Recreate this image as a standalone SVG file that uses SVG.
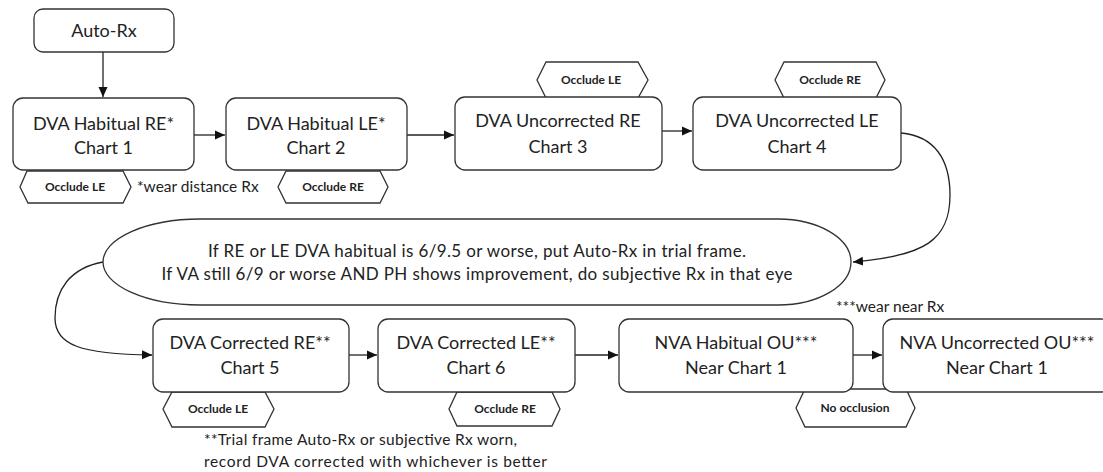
<svg xmlns="http://www.w3.org/2000/svg" width="1103" height="472" viewBox="0 0 1103 472">
<defs>
<style>
.box{fill:#fff;stroke:#333;stroke-width:1.3}
.hex{fill:#fff;stroke:#333;stroke-width:1.3}
.conn{fill:none;stroke:#222;stroke-width:1.3}
.t{font-family:Lato,"Liberation Sans",sans-serif;font-size:18px;fill:#222;text-anchor:middle}
.e{font-family:Lato,"Liberation Sans",sans-serif;font-size:17px;fill:#222;text-anchor:middle}
.n{font-family:Lato,"Liberation Sans",sans-serif;font-size:15.5px;fill:#222}
.h{font-family:Lato,"Liberation Sans",sans-serif;font-size:12px;font-weight:bold;fill:#222;text-anchor:middle}
</style>
<marker id="arr" markerUnits="userSpaceOnUse" markerWidth="11" markerHeight="10" refX="10" refY="5" orient="auto">
<path d="M0,0.5 L10,5 L0,9.5 z" fill="#111"/>
</marker>
</defs>
<rect width="1103" height="472" fill="#fff"/>

<g id="connectors">
<path class="conn" d="M103,52 L103,97" marker-end="url(#arr)"/>
<path class="conn" d="M194,135 L225,135" marker-end="url(#arr)"/>
<path class="conn" d="M407,135 L454,135" marker-end="url(#arr)"/>
<path class="conn" d="M662,131 L692,131" marker-end="url(#arr)"/>
<path class="conn" d="M901,133 C935,136 950,160 950,195 C950,240 925,256 853,262" marker-end="url(#arr)"/>
<path class="conn" d="M103,262 C70,268 55,290 55,318 C55,345 80,354 152,355" marker-end="url(#arr)"/>
<path class="conn" d="M349,355 L377,355" marker-end="url(#arr)"/>
<path class="conn" d="M575,355 L618,355" marker-end="url(#arr)"/>
<path class="conn" d="M853,355 L882,355" marker-end="url(#arr)"/>
</g>

<g id="hex1"><polygon class="hex" points="27,171 123,171 131,187 123,203 28,203 20,187"/><text class="h" x="75" y="191">Occlude LE</text></g>
<g id="hex2"><polygon class="hex" points="286,171 380,171 388,187 380,203 286,203 278,187"/><text class="h" x="333" y="191">Occlude RE</text></g>
<g id="hex3"><polygon class="hex" points="546,62 638,62 648,80 638,98 546,98 537,80"/><text class="h" x="591" y="84">Occlude LE</text></g>
<g id="hex4"><polygon class="hex" points="784,62 876,62 885,80 876,98 784,98 775,80"/><text class="h" x="830" y="84">Occlude RE</text></g>
<g id="hex5"><polygon class="hex" points="172,392 265,392 274,409 265,427 172,427 163,409"/><text class="h" x="218" y="413">Occlude LE</text></g>
<g id="hex6"><polygon class="hex" points="457,392 552,392 560,409 552,426 457,426 449,409"/><text class="h" x="505" y="413">Occlude RE</text></g>
<g id="hex7"><polygon class="hex" points="805,389 906,389 915,408 906,427 805,427 796,408"/><text class="h" x="855" y="412">No occlusion</text></g>

<g id="autorx"><rect class="box" x="34" y="9" width="140" height="43" rx="9"/><text class="t" x="104" y="37">Auto-Rx</text></g>
<g id="box1"><rect class="box" x="13" y="98" width="181" height="72" rx="10"/><text class="t" x="103.5" y="130">DVA Habitual RE*</text><text class="t" x="103.5" y="154">Chart 1</text></g>
<g id="box2"><rect class="box" x="226" y="98" width="181" height="72" rx="10"/><text class="t" x="316" y="130">DVA Habitual LE*</text><text class="t" x="316" y="154">Chart 2</text></g>
<g id="box3"><rect class="box" x="455" y="97" width="207" height="73" rx="10"/><text class="t" x="558" y="127">DVA Uncorrected RE</text><text class="t" x="558" y="153">Chart 3</text></g>
<g id="box4"><rect class="box" x="693" y="97" width="208" height="73" rx="10"/><text class="t" x="797" y="127">DVA Uncorrected LE</text><text class="t" x="797" y="153">Chart 4</text></g>

<g id="decision"><path class="box" d="M200,219 L778,219 A73,43 0 0 1 778,305 L200,305 A97,43 0 0 1 200,219 Z"/>
<text class="e" x="477" y="257" textLength="538">If RE or LE DVA habitual is 6/9.5 or worse, put Auto-Rx in trial frame.</text>
<text class="e" x="477" y="280" textLength="631">If VA still 6/9 or worse AND PH shows improvement, do subjective Rx in that eye</text></g>

<g id="box5"><rect class="box" x="153" y="319" width="196" height="73" rx="10"/><text class="t" x="250" y="349">DVA Corrected RE**</text><text class="t" x="250" y="374">Chart 5</text></g>
<g id="box6"><rect class="box" x="378" y="319" width="197" height="73" rx="10"/><text class="t" x="476" y="349">DVA Corrected LE**</text><text class="t" x="476" y="374">Chart 6</text></g>
<g id="box7"><rect class="box" x="619" y="319" width="234" height="73" rx="10"/><text class="t" x="736" y="349">NVA Habitual OU***</text><text class="t" x="736" y="374">Near Chart 1</text></g>
<g id="box8"><rect class="box" x="883" y="319" width="228" height="73" rx="10"/><text class="t" x="997" y="349">NVA Uncorrected OU***</text><text class="t" x="997" y="374">Near Chart 1</text></g>

<g id="notes">
<text class="n" x="137" y="192">*wear distance Rx</text>
<text class="n" x="836" y="312">***wear near Rx</text>
<text class="n" x="204" y="445" textLength="313">**Trial frame Auto-Rx or subjective Rx worn,</text>
<text class="n" x="204" y="467" textLength="343">record DVA corrected with whichever is better</text>
</g>
</svg>
